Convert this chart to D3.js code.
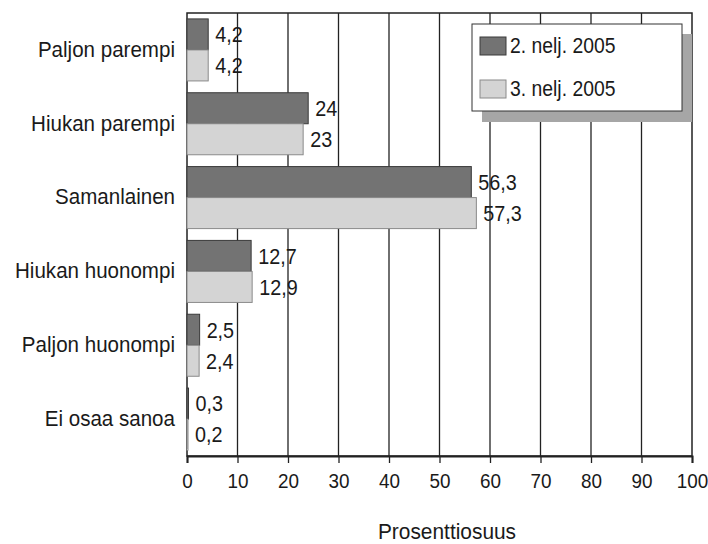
<!DOCTYPE html>
<html><head><meta charset="utf-8">
<script src="https://cdn.jsdelivr.net/npm/d3@7/dist/d3.min.js"></script>
<style>
html,body{margin:0;padding:0;background:#fff;}
svg text{font-family:"Liberation Sans",Arial,sans-serif;fill:#1a1a1a;}
</style></head>
<body><svg id="c" width="708" height="544"></svg>
<script>
const categories = ["Paljon parempi","Hiukan parempi","Samanlainen","Hiukan huonompi","Paljon huonompi","Ei osaa sanoa"];
const seriesNames = ["2. nelj. 2005","3. nelj. 2005"];
const q2 = [4.2, 24, 56.3, 12.7, 2.5, 0.3];
const q3 = [4.2, 23, 57.3, 12.9, 2.4, 0.2];
const xTicks = [0,10,20,30,40,50,60,70,80,90,100];
const axisTitle = "Prosenttiosuus";

const series = [q2, q3];
const fills = ["#737373", "#d4d4d4"];
const strokes = ["#3a3a3a", "#8a8a8a"];
const NARROW = 0.9;

const svg = d3.select("#c");
const L = 187, R = 692, T = 13, B = 456;
const x = d3.scaleLinear().domain([0,100]).range([L,R]);
const y = d3.scaleBand().domain(categories).range([T,B]).paddingInner(0.16).paddingOuter(0.08);
const ys = d3.scaleBand().domain([0,1]).range([0,y.bandwidth()]);

// gridlines
svg.append("g").selectAll("line").data(xTicks.filter(d=>d>0 && d<100)).join("line")
  .attr("x1",d=>x(d)).attr("x2",d=>x(d)).attr("y1",T).attr("y2",B)
  .attr("stroke","#222").attr("stroke-width",1.3);

// plot border
svg.append("rect").attr("x",L).attr("y",T).attr("width",R-L).attr("height",B-T)
  .attr("fill","none").attr("stroke","#222").attr("stroke-width",1.5);

// bars
const fmt = v => String(v).replace(".", ",");
series.forEach((vals, si) => {
  const g = svg.append("g");
  g.selectAll("rect").data(vals).join("rect")
    .attr("x", x(0))
    .attr("y", (d,i) => y(categories[i]) + ys(si))
    .attr("width", d => Math.max(x(d)-x(0), 1))
    .attr("height", ys.bandwidth())
    .attr("fill", fills[si]).attr("stroke", strokes[si]).attr("stroke-width", 1);
  g.selectAll("text").data(vals).join("text")
    .attr("transform", (d,i) => `translate(${x(d) + 7},${y(categories[i]) + ys(si) + ys.bandwidth()/2 + 2}) scale(${NARROW},1)`)
    .attr("dominant-baseline","middle")
    .attr("font-size", 22)
    .text(d => fmt(d));
});

// x axis
const xAxis = d3.axisBottom(x).tickValues(xTicks).tickSize(7).tickPadding(10).tickFormat(d3.format("d"));
const ax = svg.append("g").attr("transform",`translate(0,${B})`).call(xAxis);
ax.select(".domain").attr("stroke","#222").attr("stroke-width",2);
ax.selectAll(".tick line").attr("stroke","#222").attr("stroke-width",1.3);
ax.selectAll(".tick text").attr("font-size",21).attr("font-family",null).attr("fill","#1a1a1a")
  .attr("transform",`scale(${NARROW},1)`);

// y labels
svg.append("g").selectAll("text").data(categories).join("text")
  .attr("transform", d => `translate(175,${y(d) + y.bandwidth()/2 + 1}) scale(0.935,1)`)
  .attr("text-anchor","end").attr("dominant-baseline","middle")
  .attr("font-size", 22)
  .text(d => d);

// axis title
svg.append("text").attr("transform", `translate(447,533) scale(0.95,1)`)
  .attr("text-anchor","middle").attr("dominant-baseline","middle")
  .attr("font-size", 22).text(axisTitle);

// legend
const lg = svg.append("g");
lg.append("rect").attr("x",482).attr("y",34).attr("width",210).attr("height",88).attr("fill","#a6a6a6");
lg.append("rect").attr("x",472).attr("y",24).attr("width",210).attr("height",87).attr("fill","#fff").attr("stroke","#333").attr("stroke-width",1);
seriesNames.forEach((n,i) => {
  lg.append("rect").attr("x",480).attr("y",37 + i*43).attr("width",26).attr("height",18)
    .attr("fill",fills[i]).attr("stroke",strokes[i]).attr("stroke-width",1);
  lg.append("text").attr("transform", `translate(510,${47 + i*43}) scale(0.88,1)`)
    .attr("dominant-baseline","middle")
    .attr("font-size",22).text(n);
});
</script></body></html>
